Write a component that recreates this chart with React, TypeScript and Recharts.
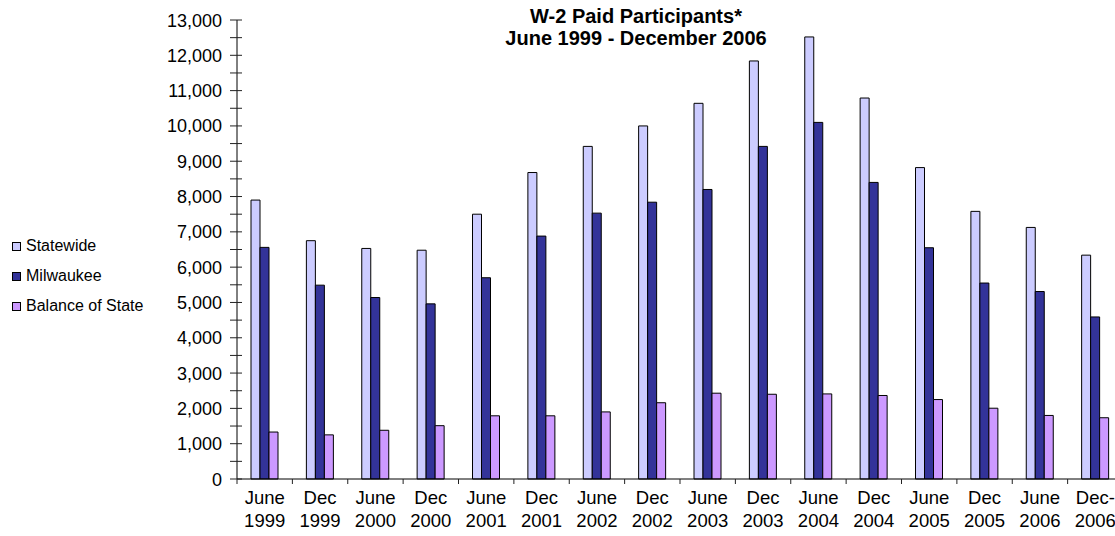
import React from "react";
import { BarChart, Bar, XAxis, YAxis, Legend } from "recharts";

const months = ["June", "Dec", "June", "Dec", "June", "Dec", "June", "Dec", "June", "Dec", "June", "Dec", "June", "Dec", "June", "Dec-"];
const years = ["1999", "1999", "2000", "2000", "2001", "2001", "2002", "2002", "2003", "2003", "2004", "2004", "2005", "2005", "2006", "2006"];

const statewide = [7900, 6750, 6530, 6480, 7500, 8680, 9420, 10000, 10640, 11840, 12520, 10790, 8820, 7580, 7125, 6340];
const milwaukee = [6560, 5490, 5140, 4960, 5700, 6880, 7530, 7840, 8200, 9420, 10100, 8400, 6550, 5550, 5310, 4590];
const balanceOfState = [1330, 1250, 1380, 1510, 1790, 1790, 1900, 2160, 2430, 2400, 2410, 2365, 2250, 2005, 1800, 1735];

const seriesNames = ["Statewide", "Milwaukee", "Balance of State"];

const yTicks = [
  0, 500, 1000, 1500, 2000, 2500, 3000, 3500, 4000, 4500, 5000, 5500, 6000, 6500,
  7000, 7500, 8000, 8500, 9000, 9500, 10000, 10500, 11000, 11500, 12000, 12500, 13000,
];

const data = months.map((m, i) => ({
  period: `${m} ${years[i]}`,
  statewide: statewide[i],
  milwaukee: milwaukee[i],
  balance: balanceOfState[i],
}));

const FONT = "'Liberation Sans', Arial, sans-serif";
const CHART_W = 1130;
const PLOT_LEFT = 237;
const PLOT_RIGHT_MARGIN = 7;
const BAND = (CHART_W - PLOT_LEFT - PLOT_RIGHT_MARGIN) / months.length;

const YTick = (props: any) => {
  const { x, y, payload } = props;
  const v = payload.value as number;
  return (
    <g>
      <line x1={x - 7} x2={x + 5} y1={y} y2={y} stroke="#222" strokeWidth={1} />
      {v % 1000 === 0 && (
        <text x={x - 15} y={y} dy={6.5} textAnchor="end" fontSize={18} fontFamily={FONT} fill="#000">
          {v.toLocaleString("en-US")}
        </text>
      )}
    </g>
  );
};

const XTick = (props: any) => {
  const { x, y, index } = props;
  const left = x - BAND / 2;
  return (
    <g>
      <line x1={left} x2={left} y1={y} y2={y + 5} stroke="#222" strokeWidth={1} />
      <text x={x} y={y + 25} textAnchor="middle" fontSize={18.5} fontFamily={FONT} fill="#000">
        {months[index]}
      </text>
      <text x={x} y={y + 48} textAnchor="middle" fontSize={18.5} fontFamily={FONT} fill="#000">
        {years[index]}
      </text>
    </g>
  );
};

const renderLegend = (props: any) => {
  const items = [...(props.payload || [])].sort(
    (a: any, b: any) => seriesNames.indexOf(a.value) - seriesNames.indexOf(b.value)
  );
  return (
    <div style={{ fontFamily: FONT, fontSize: 16 }}>
      {items.map((entry: any) => (
        <div key={entry.value} style={{ display: "flex", alignItems: "center", height: 30 }}>
          <div
            style={{
              width: 7,
              height: 7,
              background: entry.color,
              border: "1px solid #000",
              marginRight: 5,
              flexShrink: 0,
            }}
          />
          <span style={{ whiteSpace: "nowrap" }}>{entry.value}</span>
        </div>
      ))}
    </div>
  );
};

export default function App() {
  return (
    <div
      style={{
        position: "fixed",
        left: 0,
        top: 0,
        width: 1115,
        height: 536,
        overflow: "hidden",
        background: "#fff",
      }}
    >
      <div
        style={{
          position: "absolute",
          left: 436,
          width: 400,
          top: 5,
          textAlign: "center",
          fontFamily: FONT,
          fontWeight: "bold",
          fontSize: 20,
          lineHeight: "22px",
          zIndex: 2,
        }}
      >
        W-2 Paid Participants*
        <br />
        June 1999 - December 2006
      </div>
      <BarChart
        width={CHART_W}
        height={536}
        data={data}
        barSize={9}
        barGap={0}
        margin={{ top: 20, right: PLOT_RIGHT_MARGIN, bottom: 7, left: PLOT_LEFT - 80 }}
      >
        <XAxis
          dataKey="period"
          height={50}
          interval={0}
          tickSize={0}
          tickMargin={0}
          tickLine={false}
          axisLine={{ stroke: "#000" }}
          tick={<XTick />}
        />
        <YAxis
          width={80}
          domain={[0, 13000]}
          ticks={yTicks}
          interval={0}
          tickSize={0}
          tickMargin={0}
          tickLine={false}
          axisLine={{ stroke: "#000" }}
          tick={<YTick />}
        />
        <Legend
          layout="vertical"
          align="center"
          verticalAlign="middle"
          content={renderLegend}
          wrapperStyle={{ left: 12, top: 231, width: 160, height: 90 }}
        />
        <Bar dataKey="statewide" name="Statewide" fill="#CCCCFF" stroke="#000" strokeWidth={1} isAnimationActive={false} />
        <Bar dataKey="milwaukee" name="Milwaukee" fill="#333399" stroke="#000" strokeWidth={1} isAnimationActive={false} />
        <Bar dataKey="balance" name="Balance of State" fill="#CC99FF" stroke="#000" strokeWidth={1} isAnimationActive={false} />
      </BarChart>
    </div>
  );
}
